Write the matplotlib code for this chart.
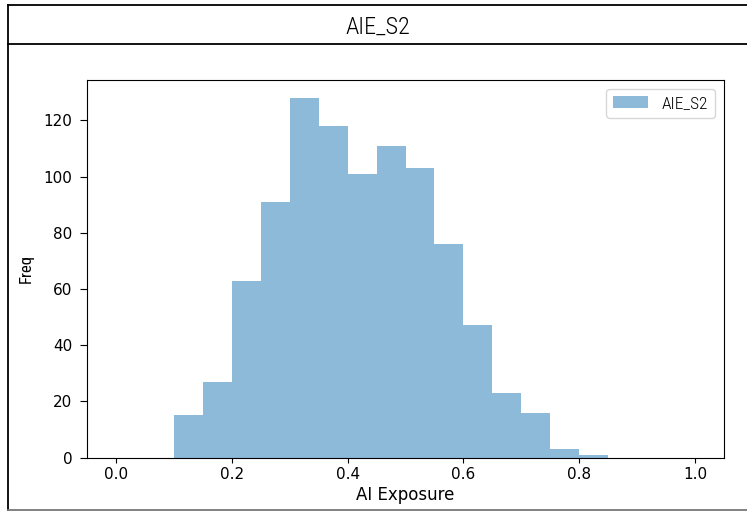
import numpy as np
import matplotlib.pyplot as plt
from matplotlib.lines import Line2D
from matplotlib import font_manager

# histogram (bins of 0.05 over 0..1)
bin_edges = [round(0.05 * i, 2) for i in range(21)]
counts = [0, 0, 15, 27, 63, 91, 128, 118, 101, 111,
          103, 76, 47, 23, 16, 3, 1, 0, 0, 0]
series_name = "AIE_S2"
x_label = "AI Exposure"
y_label = "Freq"

# the header, legend and y label use a thin narrow face in the original
names = set(f.name for f in font_manager.fontManager.ttflist)
thin = "DejaVu Sans"
for cand in ["Liberation Sans Narrow", "Roboto Condensed", "Roboto", "Lato"]:
    if cand in names:
        thin = cand
        break

W, H = 747, 511
fig = plt.figure(figsize=(W / 100, H / 100), dpi=100)

# card frame round the figure, with a header strip for the title
def px_line(x0, y0, x1, y1, color="black", lw=1.3):
    fig.add_artist(Line2D([x0 / W, x1 / W], [1 - y0 / H, 1 - y1 / H],
                          transform=fig.transFigure, color=color, lw=lw))

px_line(8, 5, W, 5)
px_line(8, 5, 8, 510)
px_line(8, 44, W, 44)
px_line(8, 510, W, 510, color="#777777")
fig.text((8 + W) / 2 / W, 1 - 27 / H, series_name, ha="center", va="center",
         fontsize=17.5, family=thin, weight="light")

ax = fig.add_axes([87 / W, 1 - 457.5 / H, (724 - 87) / W, (457.5 - 80) / H])
centers = [(bin_edges[i] + bin_edges[i + 1]) / 2 for i in range(len(counts))]
ax.hist(centers, bins=bin_edges, weights=counts, alpha=0.5, label=series_name)
ax.set_xlabel(x_label, fontsize=12, labelpad=3)
ax.set_ylabel(y_label, fontsize=12, family=thin, labelpad=7)
ax.tick_params(labelsize=11)
ax.tick_params(axis="y", length=5, pad=5.5)
ax.legend(prop={"family": thin, "size": 12.5, "weight": "light"})

fig.savefig("out.png", dpi=100)
